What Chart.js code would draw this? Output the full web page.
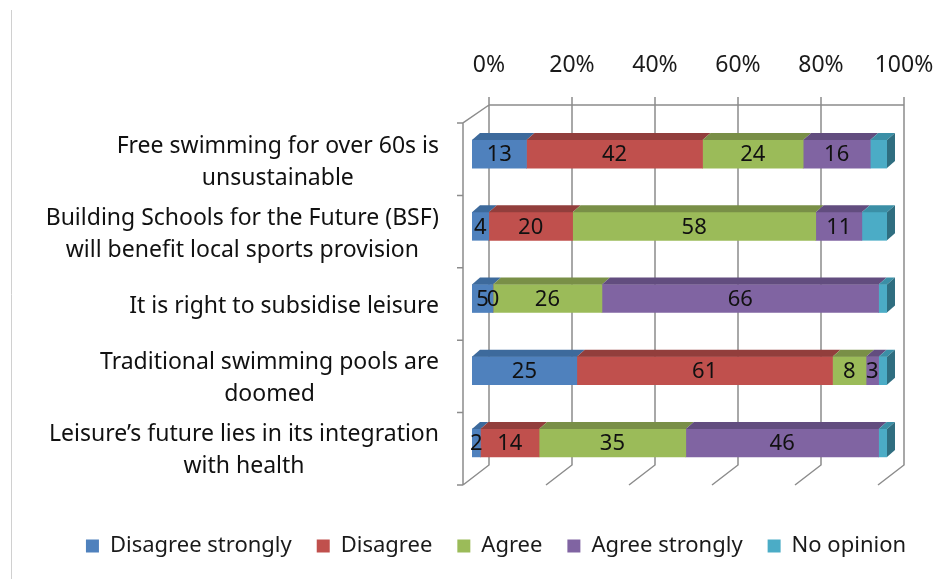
<!DOCTYPE html>
<html>
<head>
<meta charset="utf-8">
<title>Leisure survey</title>
<script src="https://cdn.jsdelivr.net/npm/chart.js@4.4.0/dist/chart.umd.min.js"></script>
<style>
  html, body { margin: 0; padding: 0; background: #fff; }
  #wrap { position: relative; width: 938px; height: 579px; }
</style>
</head>
<body>
<div id="wrap"><canvas id="surveyChart"></canvas></div>
<script>
// statements (categories), one array per answer
const statements = [
  ['Free swimming for over 60s is', 'unsustainable'],
  ['Building Schools for the Future (BSF)', 'will benefit local sports provision'],
  ['It is right to subsidise leisure'],
  ['Traditional swimming pools are', 'doomed'],
  ['Leisure\u2019s future lies in its integration', 'with health']
];
const disagreeStrongly = [13, 4, 5, 25, 2];
const disagree = [42, 20, 0, 61, 14];
const agree = [24, 58, 26, 8, 35];
const agreeStrongly = [16, 11, 66, 3, 46];
const noOpinion = [4, 6, 2, 2, 2];
const percentTicks = [0, 20, 40, 60, 80, 100];

const seriesNames = ['Disagree strongly', 'Disagree', 'Agree', 'Agree strongly', 'No opinion'];
const seriesValues = [disagreeStrongly, disagree, agree, agreeStrongly, noOpinion];
const frontColors = ['#4F81BD', '#C0504D', '#9BBB59', '#8064A2', '#4BACC6'];
const topColors = ['#3D6A9C', '#923E3C', '#798F47', '#624D7F', '#3B8FA6'];
const sideColor = '#2F6E80';

const LABEL_FONT = '23px "Noto Sans"';
const VALUE_FONT = '22px "Noto Sans"';
const GRID = '#8c8c8c';

// 100% stacked: turn each row into shares
const totals = statements.map((_, i) => seriesValues.reduce((s, arr) => s + arr[i], 0));
const shares = seriesValues.map(arr => arr.map((v, i) => v / totals[i] * 100));

const frame3d = {
  id: 'frame3d',
  beforeDraw(chart) {
    const ctx = chart.ctx;
    ctx.save();
    ctx.strokeStyle = '#d0d0d0';
    ctx.lineWidth = 1;
    ctx.beginPath();
    ctx.moveTo(11.5, 10);
    ctx.lineTo(11.5, chart.height);
    ctx.stroke();
    ctx.restore();
  },
  beforeDatasetsDraw(chart) {
    const {ctx, chartArea: a, scales: {x}} = chart;
    const backTop = a.top - 13, backBottom = a.bottom - 14;
    const wallX = a.left - 9, wallTop = a.top + 5, wallBottom = a.bottom + 6;
    ctx.save();
    ctx.strokeStyle = GRID;
    ctx.lineWidth = 1.5;
    ctx.beginPath();
    percentTicks.forEach(v => {
      const bx = x.getPixelForValue(v) + 17;
      ctx.moveTo(bx, backTop - 8);
      ctx.lineTo(bx, backBottom);
      ctx.lineTo(bx - 26, wallBottom);
    });
    ctx.moveTo(x.getPixelForValue(0) + 17, backTop);
    ctx.lineTo(x.getPixelForValue(100) + 17, backTop);
    // left wall
    ctx.moveTo(x.getPixelForValue(0) + 17, backTop);
    ctx.lineTo(wallX, wallTop);
    ctx.lineTo(wallX, wallBottom);
    const n = statements.length;
    for (let i = 0; i <= n; i++) {
      const ty = wallTop + (wallBottom - wallTop) * i / n;
      ctx.moveTo(wallX - 6, ty);
      ctx.lineTo(wallX, ty);
    }
    ctx.stroke();
    ctx.restore();
  },
  afterDatasetsDraw(chart) {
    const ctx = chart.ctx;
    const dx = 8, dy = 7;
    ctx.save();
    chart.data.datasets.forEach((ds, di) => {
      const meta = chart.getDatasetMeta(di);
      meta.data.forEach((bar, i) => {
        const {x, y, base, height} = bar.getProps(['x', 'y', 'base', 'height'], true);
        const t = y - height / 2, b = y + height / 2;
        if (x - base > 0.5) {
          ctx.fillStyle = topColors[di];
          ctx.beginPath();
          ctx.moveTo(base, t);
          ctx.lineTo(base + dx, t - dy);
          ctx.lineTo(x + dx, t - dy);
          ctx.lineTo(x, t);
          ctx.closePath();
          ctx.fill();
        }
        if (di === chart.data.datasets.length - 1) {
          ctx.fillStyle = sideColor;
          ctx.beginPath();
          ctx.moveTo(x, t);
          ctx.lineTo(x + dx, t - dy);
          ctx.lineTo(x + dx, b - dy);
          ctx.lineTo(x, b);
          ctx.closePath();
          ctx.fill();
        }
      });
    });
    // value labels (not for "No opinion")
    ctx.font = VALUE_FONT;
    ctx.fillStyle = '#111';
    ctx.textAlign = 'center';
    ctx.textBaseline = 'middle';
    for (let di = 0; di < 4; di++) {
      chart.getDatasetMeta(di).data.forEach((bar, i) => {
        const {x, y, base} = bar.getProps(['x', 'y', 'base'], true);
        ctx.fillText(String(seriesValues[di][i]), (x + base) / 2, y + 1);
      });
    }
    ctx.restore();
  },
  afterDraw(chart) {
    const {ctx, scales: {y}} = chart;
    const right = 439, lineGap = 32;
    ctx.save();
    ctx.font = LABEL_FONT;
    ctx.fillStyle = '#111';
    ctx.textAlign = 'center';
    ctx.textBaseline = 'middle';
    chart.data.labels.forEach((lines, i) => {
      const cy = y.getPixelForValue(i) + 8;
      const w = Math.max(...lines.map(l => ctx.measureText(l).width));
      const cx = right - w / 2;
      lines.forEach((l, k) => {
        ctx.fillText(l, cx, cy + (k - (lines.length - 1) / 2) * lineGap);
      });
    });
    ctx.restore();
  },
  afterLayout(chart) {
    // push the legend row down toward the bottom edge
    chart.legend.top += 31;
    chart.legend.bottom += 31;
  }
};

const ctx = document.getElementById('surveyChart');
new Chart(ctx, {
  type: 'bar',
  data: {
    labels: statements,
    datasets: seriesNames.map((name, i) => ({
      label: name,
      data: shares[i],
      backgroundColor: frontColors[i],
      borderWidth: 0,
      barThickness: 28
    }))
  },
  options: {
    indexAxis: 'y',
    responsive: true,
    maintainAspectRatio: false,
    animation: false,
    layout: { padding: { left: 54, right: 0, top: 0, bottom: 43 } },
    scales: {
      x: {
        position: 'top',
        stacked: true,
        min: 0,
        max: 100,
        grid: { display: false, drawTicks: false },
        border: { display: false },
        afterBuildTicks: s => { s.ticks = percentTicks.map(v => ({ value: v })); },
        afterFit: s => { s.height = 118; s.paddingLeft = 0; s.paddingRight = 0; },
        ticks: {
          labelOffset: 17,
          padding: 39,
          color: '#1a1a1a',
          font: { family: 'Noto Sans', size: 23 },
          callback: v => v + '%'
        }
      },
      y: {
        stacked: true,
        grid: { display: false, drawTicks: false },
        border: { display: false },
        ticks: { display: false },
        afterFit: s => { s.width = 418; }
      },
      y2: {
        type: 'category',
        position: 'right',
        grid: { display: false, drawTicks: false },
        border: { display: false },
        ticks: { display: false },
        afterFit: s => { s.width = 51; }
      }
    },
    plugins: {
      legend: {
        position: 'bottom',
        labels: {
          boxWidth: 13,
          boxHeight: 13,
          padding: 25,
          color: '#1a1a1a',
          font: { family: 'Noto Sans', size: 22 }
        }
      },
      tooltip: { enabled: false }
    }
  },
  plugins: [frame3d]
});
</script>
</body>
</html>
